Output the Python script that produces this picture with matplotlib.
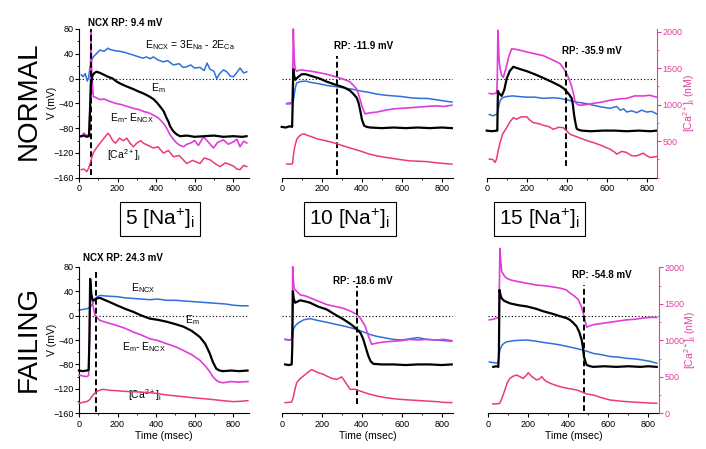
import matplotlib
matplotlib.use("Agg")
import matplotlib.pyplot as plt
from matplotlib.ticker import MultipleLocator, FixedLocator

plt.rcParams['font.family'] = ['Liberation Sans', 'DejaVu Sans']
plt.rcParams['mathtext.default'] = 'regular'

# ---------------- data (time in msec, voltages in mV, [Ca2+]i in nM) ----------------
# NORMAL, 5 [Na+]i
n5_em_t = [10, 25, 40, 52, 56, 62, 70, 80, 92, 110, 130, 150, 175, 196, 220, 250, 282, 310, 334, 360,
           386, 405, 421, 440, 455, 465, 473, 485, 499, 512, 525, 560, 600, 650, 700, 750, 800, 850, 870]
n5_em = [-93, -92, -94, -93, -60, -10, 5, 9, 11, 9, 6, 3, 0, -5, -9, -13, -17, -21, -24, -28,
         -33, -39, -45, -53, -64, -70, -77, -83, -88, -91, -93, -92, -94, -93, -92, -94, -93, -94, -93]
n5_ncx_t = [12, 22, 32, 43, 50, 58, 66, 74, 90, 109, 130, 150, 161, 185, 213, 240, 260, 282, 300, 320,
            334, 350, 370, 386, 410, 438, 460, 490, 520, 540, 559, 580, 600, 628, 650, 665, 680, 700,
            715, 730, 750, 767, 785, 802, 820, 836, 855, 871]
n5_ncx = [6, 3, 8, -4, 2, 20, 30, 35, 40, 46, 44, 49, 47, 45, 44, 42, 40, 38, 36, 34,
          33, 35, 32, 35, 30, 27, 29, 22, 24, 18, 19, 22, 17, 18, 13, 25, 15, 12,
          0, 8, 14, 11, 4, 3, 10, 17, 9, 11]
n5_dif_t = [12, 25, 40, 52, 58, 62, 66, 74, 90, 109, 130, 161, 190, 220, 250, 282, 310, 334, 360, 386,
            410, 438, 455, 473, 490, 507, 525, 542, 560, 580, 600, 620, 646, 670, 698, 720, 750, 775,
            802, 820, 836, 855, 871]
n5_dif = [-94, -88, -92, -90, -40, 75, 10, -29, -31, -34, -33, -37, -40, -42, -45, -48, -50, -53, -55, -59,
          -63, -72, -80, -91, -98, -104, -108, -110, -106, -104, -100, -108, -94, -102, -112, -103, -99, -106,
          -102, -98, -110, -101, -104]
n5_ca_t = [12, 25, 40, 50, 57, 66, 74, 90, 109, 130, 150, 161, 175, 190, 210, 230, 248, 265, 282, 300,
           320, 334, 360, 386, 410, 438, 465, 490, 520, 559, 590, 628, 650, 680, 710, 732, 760, 785,
           802, 820, 836, 855, 871]
n5_ca = [110, 118, 85, 127, 194, 270, 338, 406, 473, 541, 608, 575, 507, 473, 541, 507, 541, 473, 423, 473,
         507, 473, 440, 406, 423, 338, 372, 287, 304, 194, 237, 194, 270, 245, 186, 152, 203, 178,
         160, 118, 110, 169, 152]

# NORMAL, 10 [Na+]i
n10_em_t = [0, 20, 40, 52, 55, 58, 62, 68, 80, 100, 120, 150, 190, 225, 270, 309, 340, 359, 375, 384,
            393, 401, 412, 425, 442, 500, 560, 620, 680, 740, 800, 851]
n10_em = [-78, -79, -77, -78, -40, 15, 5, -2, 2, 7, 7, 4, 0, -5, -10, -14, -19, -25, -31, -39,
          -52, -66, -76, -78, -79, -80, -79, -80, -79, -80, -79, -80]
n10_ncx_t = [25, 40, 52, 57, 62, 68, 75, 92, 120, 142, 180, 225, 270, 309, 350, 392, 430, 476, 520, 559,
             600, 643, 690, 726, 770, 810, 851]
n10_ncx = [-40, -41, -40, -38, -28, -15, -7, -5, -4, -6, -8, -11, -13, -15, -17, -20, -22, -25, -27, -28,
           -29, -31, -32, -32, -34, -36, -38]
n10_dif_t = [25, 40, 52, 55, 58, 63, 67, 75, 83, 100, 120, 142, 180, 225, 270, 309, 340, 359, 375, 384,
             393, 401, 410, 417, 430, 450, 476, 520, 559, 600, 643, 690, 726, 770, 810, 851]
n10_dif = [-41, -39, -40, -10, 80, 30, 15, 12, 13, 14, 13, 12, 10, 7, 3, -1, -5, -11, -17, -25,
           -35, -44, -52, -57, -56, -55, -54, -51, -49, -48, -47, -46, -45, -44, -45, -43]
n10_ca_t = [25, 50, 55, 58, 65, 75, 88, 100, 112, 125, 150, 180, 225, 270, 309, 350, 392, 430, 476, 520,
            559, 600, 643, 690, 726, 770, 810, 851]
n10_ca = [186, 186, 200, 296, 420, 524, 570, 592, 600, 583, 560, 530, 503, 470, 434, 400, 366, 330, 298, 278,
          262, 245, 230, 225, 220, 205, 195, 186]

# NORMAL, 15 [Na+]i
n15_em_t = [0, 25, 50, 53, 56, 62, 75, 88, 100, 115, 133, 160, 200, 240, 283, 330, 367, 385, 400, 413,
            425, 431, 437, 444, 450, 462, 475, 520, 580, 640, 700, 760, 820, 850]
n15_em = [-84, -85, -84, -84, -20, -24, -28, -18, 0, 12, 19, 16, 12, 7, 1, -6, -12, -16, -21, -26,
          -32, -42, -59, -72, -81, -83, -84, -85, -84, -84, -85, -84, -85, -84]
n15_ncx_t = [13, 30, 50, 55, 60, 67, 75, 88, 100, 130, 160, 200, 240, 283, 330, 367, 410, 450, 490, 533,
             575, 617, 650, 667, 685, 700, 725, 750, 775, 800, 825, 850]
n15_ncx = [-58, -60, -58, -55, -45, -36, -32, -30, -29, -28, -29, -30, -30, -32, -31, -32, -35, -38, -40, -43,
           -46, -48, -45, -51, -49, -54, -52, -55, -51, -54, -53, -57]
n15_dif_t = [13, 30, 50, 53, 56, 62, 67, 75, 83, 95, 110, 125, 150, 200, 240, 283, 330, 367, 385, 400,
             413, 425, 435, 442, 455, 467, 500, 533, 575, 617, 660, 700, 740, 783, 815, 850]
n15_dif = [-24, -25, -23, 0, 78, 30, 16, 5, 2, 15, 35, 48, 47, 43, 40, 37, 30, 24, 16, 8,
           -2, -13, -26, -38, -42, -43, -42, -40, -38, -35, -33, -32, -28, -28, -27, -30]
n15_ca_t = [13, 30, 42, 50, 58, 67, 80, 100, 115, 133, 150, 170, 200, 215, 233, 260, 283, 310, 333, 360,
            383, 400, 417, 450, 483, 510, 533, 575, 617, 640, 650, 675, 700, 725, 750, 783, 800, 817, 850]
n15_ca = [254, 250, 209, 260, 380, 481, 600, 685, 760, 821, 800, 830, 834, 790, 753, 740, 717, 700, 662, 690,
          685, 640, 594, 560, 526, 500, 481, 440, 390, 350, 322, 360, 345, 300, 299, 336, 300, 277, 290]

# FAILING, 5 [Na+]i
f5_em_t = [0, 20, 40, 50, 54, 58, 64, 71, 80, 92, 109, 130, 160, 195, 240, 282, 325, 368, 410, 454,
           500, 541, 585, 627, 655, 679, 695, 713, 730, 748, 790, 830, 875]
f5_em = [-90, -91, -90, -89, -40, 60, 35, 25, 26, 28, 29, 26, 22, 17, 11, 6, 0, -5, -7, -10,
         -14, -18, -25, -35, -46, -62, -76, -87, -90, -91, -90, -91, -90]
f5_ncx_t = [0, 20, 40, 55, 66, 80, 92, 109, 140, 195, 240, 282, 325, 368, 410, 454, 500, 541, 585, 627,
            670, 713, 760, 800, 840, 877]
f5_ncx = [9, 10, 11, 13, 17, 25, 30, 33, 32, 31, 29, 28, 27, 26, 27, 25, 25, 24, 23, 22,
          21, 20, 19, 17, 16, 16]
f5_dif_t = [0, 20, 40, 50, 54, 58, 62, 66, 75, 83, 95, 109, 150, 195, 240, 282, 325, 368, 410, 454,
            500, 541, 585, 627, 655, 679, 695, 713, 730, 748, 790, 830, 877]
f5_dif = [-97, -99, -100, -98, -40, 47, 38, 28, 12, 1, -4, -8, -12, -16, -21, -27, -32, -38, -41, -46,
          -51, -57, -64, -73, -82, -92, -100, -106, -109, -110, -108, -109, -108]
f5_ca_t = [0, 20, 40, 55, 66, 80, 92, 110, 126, 160, 195, 240, 282, 325, 368, 410, 454, 500, 541, 585,
           627, 670, 713, 760, 800, 840, 877]
f5_ca = [137, 150, 160, 185, 228, 270, 297, 320, 329, 315, 310, 300, 297, 290, 283, 270, 251, 240, 228, 215,
         205, 195, 183, 170, 160, 165, 174]

# FAILING, 10 [Na+]i
f10_em_t = [17, 35, 50, 53, 56, 60, 67, 80, 92, 120, 142, 180, 225, 265, 308, 345, 375, 395, 408, 420,
            433, 445, 458, 500, 558, 620, 680, 740, 800, 850]
f10_em = [-80, -81, -80, -50, 40, 28, 21, 23, 25, 23, 21, 15, 10, 2, -6, -14, -22, -29, -39, -52,
          -66, -75, -79, -80, -80, -81, -80, -80, -81, -80]
f10_ncx_t = [17, 35, 50, 55, 58, 67, 83, 110, 142, 180, 225, 265, 308, 345, 375, 410, 442, 475, 508, 558,
             600, 642, 680, 725, 775, 810, 850]
f10_ncx = [-39, -40, -39, -36, -23, -17, -12, -7, -5, -8, -11, -14, -17, -20, -23, -27, -31, -34, -36, -39,
           -40, -38, -36, -39, -40, -41, -42]
f10_dif_t = [17, 35, 50, 53, 55, 58, 62, 67, 80, 92, 120, 142, 180, 225, 265, 308, 345, 375, 395, 417,
             435, 450, 475, 520, 558, 600, 642, 680, 725, 775, 810, 850]
f10_dif = [-39, -40, -39, 0, 80, 60, 45, 42, 38, 34, 32, 29, 24, 18, 15, 12, 7, 2, -5, -17,
           -35, -47, -45, -43, -42, -41, -39, -40, -39, -40, -39, -41]
f10_ca_t = [17, 35, 50, 58, 67, 75, 90, 108, 130, 150, 165, 183, 205, 225, 250, 275, 300, 320, 342, 365,
            392, 430, 475, 520, 558, 600, 642, 680, 725, 775, 810, 850]
f10_ca = [146, 150, 155, 220, 340, 419, 470, 510, 560, 600, 580, 555, 540, 510, 480, 464, 500, 420, 328, 330,
          305, 270, 237, 215, 200, 190, 182, 176, 168, 160, 150, 146]

# FAILING, 15 [Na+]i
f15_em_t = [25, 40, 50, 53, 56, 60, 67, 80, 108, 150, 192, 240, 275, 320, 358, 390, 408, 425, 442, 455,
            467, 473, 478, 485, 492, 510, 525, 580, 640, 700, 760, 800, 842]
f15_em = [-84, -83, -84, -60, 42, 35, 28, 24, 20, 17, 15, 11, 7, 3, -1, -4, -7, -12, -18, -27,
          -40, -52, -67, -75, -81, -83, -84, -83, -84, -83, -84, -83, -84]
f15_ncx_t = [5, 25, 42, 50, 58, 70, 80, 92, 130, 192, 240, 275, 320, 358, 400, 442, 480, 525, 565, 608,
             650, 692, 735, 775, 810, 842]
f15_ncx = [-76, -77, -78, -76, -56, -48, -45, -43, -41, -40, -42, -44, -46, -48, -51, -54, -57, -62, -64, -67,
           -68, -70, -71, -73, -75, -78]
f15_dif_t = [5, 25, 42, 52, 56, 58, 62, 67, 80, 92, 115, 142, 192, 240, 275, 320, 358, 390, 408, 430,
             450, 465, 475, 485, 492, 505, 525, 565, 608, 650, 692, 735, 775, 810, 842]
f15_dif = [-7, -6, -4, -3, 60, 110, 90, 72, 65, 61, 58, 56, 53, 50, 49, 47, 45, 42, 37, 32,
           26, 15, 4, -10, -19, -17, -15, -13, -11, -9, -7, -6, -4, -3, -3]
f15_ca_t = [22, 40, 58, 70, 83, 95, 108, 125, 142, 160, 175, 190, 200, 215, 242, 255, 267, 280, 292, 320,
            358, 400, 442, 470, 492, 525, 565, 608, 650, 692, 735, 775, 810, 842]
f15_ca = [128, 130, 137, 220, 320, 420, 479, 510, 525, 500, 479, 520, 557, 510, 457, 470, 502, 460, 434, 400,
          365, 340, 320, 290, 265, 251, 215, 183, 170, 160, 152, 146, 140, 137]

# reversal potentials (time of dashed marker, label)
rp_times = [60, 276, 396, 88, 375, 478]
rp_labels = ['NCX RP: 9.4 mV', 'RP: -11.9 mV', 'RP: -35.9 mV',
             'NCX RP: 24.3 mV', 'RP: -18.6 mV', 'RP: -54.8 mV']
na_labels = [r'5 [Na$^{+}$]$_{i}$', r'10 [Na$^{+}$]$_{i}$', r'15 [Na$^{+}$]$_{i}$']
row_labels = ['NORMAL', 'FAILING']

# ---------------- styling ----------------
C_EM = 'black'
C_NCX = '#2f6fdc'
C_DIF = '#e03cd8'
C_CA = '#ec3a78'
C_AX = '#e2409e'

W, H = 706, 449
fig = plt.figure(figsize=(W / 100, H / 100), dpi=100)


def px_axes(x0, x1, ytop, ybot):
    return fig.add_axes([x0 / W, 1 - ybot / H, (x1 - x0) / W, (ybot - ytop) / H])


panels = [
    # (traces, x0, x1, ytop, ybot, xmax, camax, col, row)
    ((n5_em_t, n5_em, n5_ncx_t, n5_ncx, n5_dif_t, n5_dif, n5_ca_t, n5_ca), 79, 248.5, 29, 177.7, 880, 2035, 0, 0),
    ((n10_em_t, n10_em, n10_ncx_t, n10_ncx, n10_dif_t, n10_dif, n10_ca_t, n10_ca), 281.7, 453.3, 29, 177.7, 858, 2035, 1, 0),
    ((n15_em_t, n15_em, n15_ncx_t, n15_ncx, n15_dif_t, n15_dif, n15_ca_t, n15_ca), 486.7, 657.1, 29, 177.7, 852, 2035, 2, 0),
    ((f5_em_t, f5_em, f5_ncx_t, f5_ncx, f5_dif_t, f5_dif, f5_ca_t, f5_ca), 79, 248.5, 266.7, 413.3, 880, 2010, 0, 1),
    ((f10_em_t, f10_em, f10_ncx_t, f10_ncx, f10_dif_t, f10_dif, f10_ca_t, f10_ca), 281.7, 453.3, 266.7, 413.3, 858, 2010, 1, 1),
    ((f15_em_t, f15_em, f15_ncx_t, f15_ncx, f15_dif_t, f15_dif, f15_ca_t, f15_ca), 488.3, 658.7, 266.7, 413.3, 852, 2010, 2, 1),
]

# label positions (data coords) for the RP annotations and dashed line extents
rp_text_pos = [(47, 90), (262, 53), (375, 45), (21, 95), (256, 56), (417, 67)]
rp_line_ext = [(-155, 80), (-156, 36), (-141, 31), (-158, 77), (-145, 48), (-157, 50)]

axes = []
for i, (tr, x0, x1, ytop, ybot, xmax, camax, col, row) in enumerate(panels):
    em_t, em, ncx_t, ncx, dif_t, dif, ca_t, ca = tr
    ax = px_axes(x0, x1, ytop, ybot)
    ax.set_xlim(0, xmax)
    ax.set_ylim(-160, 80)
    axc = ax.twinx()
    axc.set_ylim(0, camax)

    ax.axhline(0, color='black', ls=(0, (1, 2)), lw=0.8, zorder=1)
    axc.plot(ca_t, ca, color=C_CA, lw=1.1, clip_on=False)
    ax.plot(ncx_t, ncx, color=C_NCX, lw=1.1, clip_on=False, zorder=2)
    ax.plot(dif_t, dif, color=C_DIF, lw=1.2, clip_on=False, zorder=3)
    ax.plot(em_t, em, color=C_EM, lw=1.6, clip_on=False, zorder=4)

    lo, hi = rp_line_ext[i]
    ax.plot([rp_times[i], rp_times[i]], [lo, hi], color='black', ls=(0, (3, 1.6)),
            lw=1.4, clip_on=False, zorder=5)
    tx, ty = rp_text_pos[i]
    ax.text(tx, ty, rp_labels[i], fontsize=7, weight='bold', ha='left', va='center')

    for a in (ax, axc):
        a.spines['top'].set_visible(False)
        a.spines['right'].set_visible(False)
        a.spines['left'].set_visible(False)
    ax.spines['bottom'].set_linewidth(0.8)
    axc.spines['bottom'].set_visible(False)

    ax.xaxis.set_major_locator(MultipleLocator(200))
    ax.xaxis.set_minor_locator(MultipleLocator(100))
    ax.tick_params(axis='x', which='major', direction='out', length=3, width=0.8, labelsize=6.5, pad=1.5)
    ax.tick_params(axis='x', which='minor', direction='out', length=1.5, width=0.6)

    if col == 0:
        ax.spines['left'].set_visible(True)
        ax.spines['left'].set_linewidth(0.8)
        ax.yaxis.set_major_locator(MultipleLocator(40))
        ax.yaxis.set_minor_locator(MultipleLocator(20))
        ax.tick_params(axis='y', which='major', direction='out', length=3, width=0.8, labelsize=6.5, pad=1)
        ax.tick_params(axis='y', which='minor', direction='out', length=1.5, width=0.6)
        ax.set_ylabel('V (mV)', fontsize=7.5)
        ax.yaxis.set_label_coords(-0.13, 0.5)
    else:
        ax.tick_params(axis='y', which='both', left=False, labelleft=False)

    if col == 2:
        axc.spines['right'].set_visible(True)
        axc.spines['right'].set_color(C_AX)
        axc.spines['right'].set_linewidth(0.8)
        ticks = [500, 1000, 1500, 2000] if row == 0 else [0, 500, 1000, 1500, 2000]
        axc.yaxis.set_major_locator(FixedLocator(ticks))
        axc.yaxis.set_minor_locator(MultipleLocator(250))
        axc.tick_params(axis='y', which='major', direction='out', length=3, width=0.8,
                        labelsize=6.5, colors=C_AX, pad=1)
        axc.tick_params(axis='y', which='minor', direction='out', length=1.5, width=0.6, colors=C_AX)
        axc.set_ylabel(r'[Ca$^{2+}$]$_i$ (nM)', fontsize=7.5, color=C_AX)
        axc.yaxis.set_label_coords(1.14, 0.5)
    else:
        axc.tick_params(axis='y', which='both', right=False, labelright=False)

    if row == 1:
        ax.set_xlabel('Time (msec)', fontsize=7.5, labelpad=2)
    axes.append(ax)

# trace labels in the 5 [Na+]i panels
ax = axes[0]
ax.text(343, 54, r'E$_{NCX}$ = 3E$_{Na}$ - 2E$_{Ca}$', fontsize=7.5, ha='left', va='center')
ax.text(374, -15, r'E$_m$', fontsize=7.5, ha='left', va='center')
ax.text(161, -63, r'E$_m$- E$_{NCX}$', fontsize=7.5, ha='left', va='center')
ax.text(145, -123, r'[Ca$^{2+}$]$_i$', fontsize=7.5, ha='left', va='center')
ax = axes[3]
ax.text(269, 45, r'E$_{NCX}$', fontsize=7.5, ha='left', va='center')
ax.text(549, -8, r'E$_m$', fontsize=7.5, ha='left', va='center')
ax.text(223, -52, r'E$_m$- E$_{NCX}$', fontsize=7.5, ha='left', va='center')
ax.text(254, -130, r'[Ca$^{2+}$]$_i$', fontsize=7.5, ha='left', va='center')

# [Na+]i boxes and row titles
for xc, lab in zip([160, 350, 539.5], na_labels):
    fig.text(xc / W, 1 - 219 / H, lab, fontsize=15, ha='center', va='center',
             bbox=dict(boxstyle='square,pad=0.25', fc='white', ec='black', lw=0.8))
for yc, lab in zip([101, 339], row_labels):
    fig.text(29 / W, 1 - yc / H, lab, fontsize=20, rotation=90, ha='center', va='center')

fig.savefig('out.png', dpi=100)
